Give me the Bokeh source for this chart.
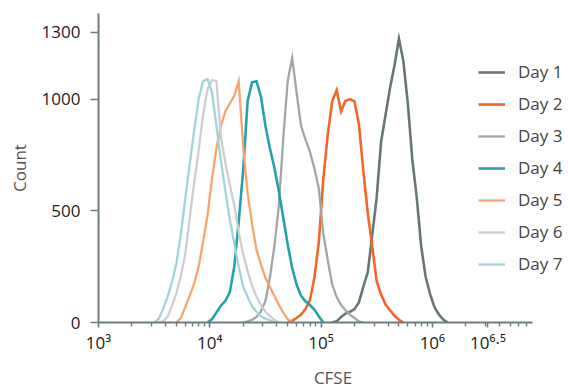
from bokeh.plotting import figure
from bokeh.models import Range1d, FixedTicker, Legend, LegendItem, CustomJSTickFormatter
from bokeh.embed import file_html
from bokeh.resources import INLINE

# ---------------- data ----------------
series_names = ["Day 1", "Day 2", "Day 3", "Day 4", "Day 5", "Day 6", "Day 7"]
series_colors = ["#687676", "#f4652a", "#a1a6a6", "#27a1a9", "#f8a46f", "#cecece", "#a2d3d9"]

# histogram bins are 0.04 decades wide in log10(CFSE); first bin centre per series
bin_width = 0.04

day1_first_bin = 5.10
day1_counts = [0, 5, 25, 40, 48, 60, 90, 160, 225, 390, 560, 810, 930, 1050, 1150, 1270, 1170,
               980, 730, 560, 340, 205, 127, 68, 35, 12, 0]

day2_first_bin = 4.70
day2_counts = [0, 8, 20, 35, 60, 100, 200, 360, 640, 840, 990, 1040, 945, 992, 1000, 990, 890,
               680, 490, 340, 185, 125, 80, 55, 30, 12, 0]

day3_first_bin = 4.30
day3_counts = [0, 5, 12, 25, 50, 95, 200, 340, 520, 820, 1080, 1185, 1030, 880, 820, 765, 690,
               600, 400, 280, 170, 115, 78, 55, 35, 20, 5, 0]

day4_first_bin = 3.98
day4_counts = [0, 15, 45, 75, 97, 135, 250, 450, 680, 990, 1075, 1080, 1010, 880, 780, 695, 590,
               470, 350, 245, 170, 120, 95, 78, 58, 28, 0]

day5_first_bin = 3.70
day5_counts = [0, 20, 70, 120, 175, 250, 360, 480, 645, 780, 880, 945, 980, 1015, 1080, 790, 580,
               440, 325, 260, 200, 160, 120, 80, 45, 15, 0]

day6_first_bin = 3.54
day6_counts = [0, 5, 25, 75, 130, 210, 306, 470, 625, 769, 930, 1045, 1085, 1080, 830, 715, 615,
               525, 405, 306, 230, 165, 115, 78, 48, 28, 12, 0]

day7_first_bin = 3.50
day7_counts = [0, 15, 60, 115, 180, 265, 395, 555, 710, 860, 1000, 1080, 1090, 1030, 880, 725, 590,
               460, 355, 250, 160, 115, 72, 48, 28, 18, 10, 0]

x_tick_exponents = [3, 4, 5, 6, 6.5]
y_ticks = [0, 500, 1000, 1300]
x_axis_start, x_axis_end = 1e3, 8e6      # extent of the drawn x axis
x_view_end = 1.64e7                      # room on the right for the legend
y_start, y_end = 0, 1383

first_bins = [day1_first_bin, day2_first_bin, day3_first_bin, day4_first_bin,
              day5_first_bin, day6_first_bin, day7_first_bin]
all_counts = [day1_counts, day2_counts, day3_counts, day4_counts,
              day5_counts, day6_counts, day7_counts]

# ---------------- figure ----------------
FONT = "Open Sans"
AXIS_COLOR = "#6e7c7c"

p = figure(x_axis_type="log",
           x_range=Range1d(x_axis_start, x_view_end), y_range=Range1d(y_start, y_end),
           frame_width=469, frame_height=309,
           min_border_left=98, min_border_right=1, min_border_top=13, min_border_bottom=64,
           output_backend="svg", toolbar_location=None)
p.outline_line_color = None
p.xgrid.visible = False
p.ygrid.visible = False
p.background_fill_color = "white"
p.border_fill_color = "white"

renderers = []
for name, color, first, counts in zip(series_names, series_colors, first_bins, all_counts):
    xs = [10 ** (first + bin_width * i) for i in range(len(counts))]
    width = 2.6 if name in ("Day 1", "Day 2", "Day 4") else 2.3
    r = p.line(xs, counts, line_color=color, line_width=width, line_join="miter")
    renderers.append(r)

# x axis
xa = p.xaxis[0]
major = [10 ** e for e in x_tick_exponents]
minor = [m * 10 ** d for d in (3, 4, 5, 6) for m in range(2, 10) if m * 10 ** d < x_axis_end]
xa.ticker = FixedTicker(ticks=major, minor_ticks=minor)
xa.bounds = (x_axis_start, x_axis_end)
xa.formatter = CustomJSTickFormatter(code="""
const sup = {"0":"\u2070","1":"\u00b9","2":"\u00b2","3":"\u00b3","4":"\u2074","5":"\u2075",
             "6":"\u2076","7":"\u2077","8":"\u2078","9":"\u2079",".":"\u00b7"};
const e = Math.round(Math.log10(tick) * 10) / 10;
return "10" + String(e).split("").map(c => sup[c]).join("");
""")
xa.axis_label = "CFSE"

# y axis
ya = p.yaxis[0]
ya.ticker = FixedTicker(ticks=y_ticks, minor_ticks=[])
ya.axis_label = "Count"

for ax in (xa, ya):
    ax.axis_line_color = AXIS_COLOR
    ax.axis_line_width = 2
    ax.major_tick_line_color = AXIS_COLOR
    ax.major_tick_line_width = 1.6
    ax.minor_tick_line_color = AXIS_COLOR
    ax.minor_tick_line_width = 1.4
    ax.major_tick_in = 0
    ax.minor_tick_in = 0
    ax.major_label_text_font = FONT
    ax.major_label_text_font_size = "17px"
    ax.major_label_text_color = "#222222"
    ax.axis_label_text_font = FONT
    ax.axis_label_text_font_size = "17px"
    ax.axis_label_text_font_style = "normal"
    ax.axis_label_text_color = "#555555"

xa.major_tick_out = 5
xa.minor_tick_out = 4
xa.major_label_standoff = 3
xa.axis_label_standoff = 9

ya.major_tick_out = 8
ya.minor_tick_out = 0
ya.major_label_standoff = 10
ya.axis_label_standoff = 8

legend = Legend(
    items=[LegendItem(label=n, renderers=[r]) for n, r in zip(series_names, renderers)],
    location=(380, 47), orientation="vertical",
    border_line_color=None, background_fill_alpha=0,
    padding=0, margin=0, spacing=9,
    glyph_width=27, glyph_height=22, label_height=22, label_standoff=13,
    label_text_font=FONT, label_text_font_size="17px", label_text_color="#444444",
)
p.add_layout(legend)

open("out.html", "w").write(file_html(p, INLINE))
